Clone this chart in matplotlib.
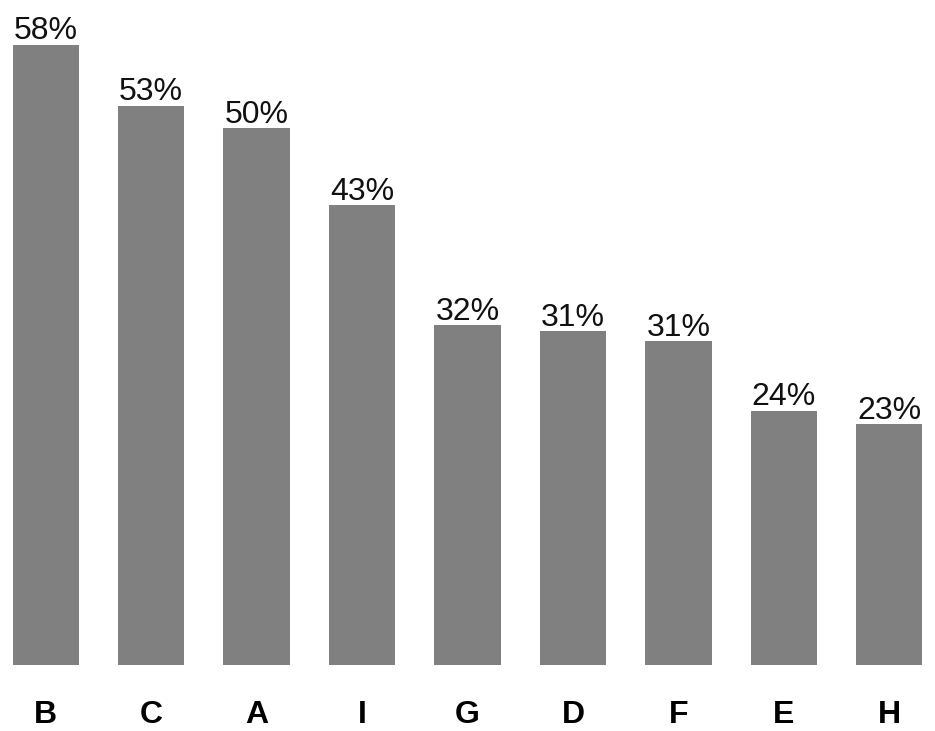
import matplotlib
matplotlib.use("Agg")
import matplotlib.pyplot as plt

# bar heights, printed labels as shown
categories = ["B", "C", "A", "I", "G", "D", "F", "E", "H"]
heights = [58.0, 52.3, 50.2, 43.0, 31.8, 31.2, 30.3, 23.8, 22.5]
labels = ["58%", "53%", "50%", "43%", "32%", "31%", "31%", "24%", "23%"]

fig = plt.figure(figsize=(9.35, 7.31), dpi=100)
W, H = 935, 731
left, right, bottom, top = 12, 923, 66, 45
ax = fig.add_axes([left / W, bottom / H, (right - left) / W, (H - bottom - top) / H])

x = range(len(categories))
bars = ax.bar(x, heights, width=0.63, color="#808080")
for rect, lab in zip(bars, labels):
    ax.annotate(lab, (rect.get_x() + rect.get_width() / 2, rect.get_height()),
                xytext=(0, 4), textcoords="offset points", ha="center", va="baseline",
                fontsize=23, family="Liberation Sans", color="#111111",
                annotation_clip=False)

ax.set_xlim(-0.32, len(categories) - 1 + 0.32)
ax.set_ylim(0, max(heights))
ax.set_xticks(list(x))
ax.set_xticklabels(categories, fontsize=23, fontweight="bold", family="Liberation Sans")
ax.tick_params(axis="x", length=0, pad=25)
ax.set_yticks([])
for s in ax.spines.values():
    s.set_visible(False)

fig.savefig("out.png", dpi=100)
